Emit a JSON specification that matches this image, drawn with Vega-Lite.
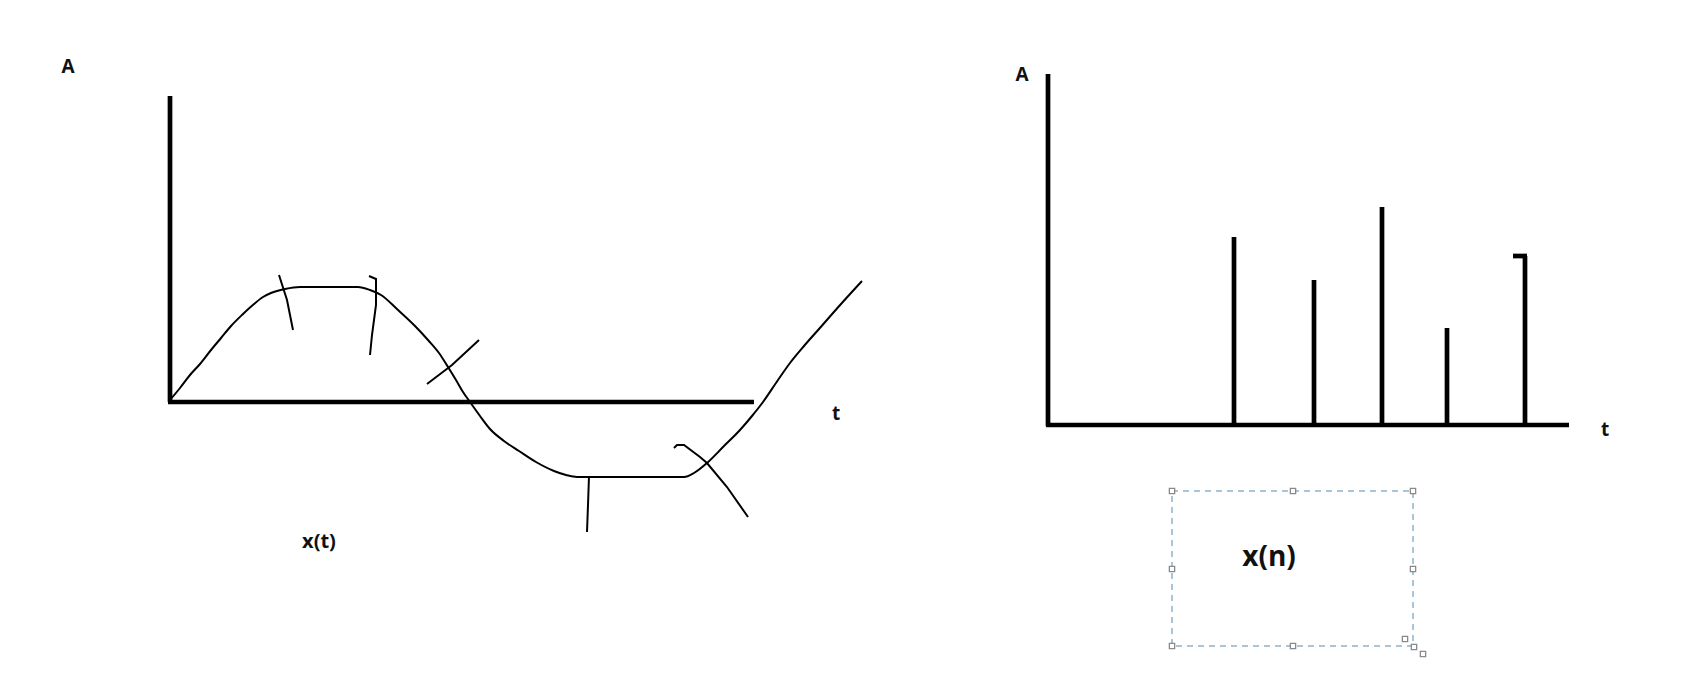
{
  "$schema": "https://vega.github.io/schema/vega-lite/v6.json",
  "width": 1688,
  "height": 697,
  "autosize": {"type": "fit", "contains": "padding"},
  "padding": 0,
  "background": "white",
  "config": {"view": {"stroke": null}},
  "datasets": {
    "axes": [
      {"x": 170, "y": 96, "x2": 170, "y2": 402},
      {"x": 168, "y": 402, "x2": 754, "y2": 402},
      {"x": 1048, "y": 74, "x2": 1048, "y2": 426},
      {"x": 1046, "y": 425, "x2": 1569, "y2": 425},
      {"x": 1513, "y": 256, "x2": 1527, "y2": 256}
    ],
    "stems": [
      {"t": 1234, "A": 237, "base": 425},
      {"t": 1314, "A": 280, "base": 425},
      {"t": 1382, "A": 207, "base": 425},
      {"t": 1447, "A": 328, "base": 425},
      {"t": 1525, "A": 256, "base": 425}
    ],
    "curve": [
      {"t": 170, "A": 400}, {"t": 180, "A": 388}, {"t": 190, "A": 375},
      {"t": 200, "A": 364}, {"t": 211, "A": 350}, {"t": 221, "A": 338},
      {"t": 231, "A": 326}, {"t": 243, "A": 314}, {"t": 254, "A": 304},
      {"t": 263, "A": 297}, {"t": 271, "A": 293}, {"t": 285, "A": 289},
      {"t": 300, "A": 287}, {"t": 330, "A": 287}, {"t": 358, "A": 287},
      {"t": 370, "A": 290}, {"t": 381, "A": 295}, {"t": 398, "A": 310},
      {"t": 415, "A": 326}, {"t": 428, "A": 340}, {"t": 439, "A": 353},
      {"t": 448, "A": 367}, {"t": 456, "A": 380}, {"t": 463, "A": 392},
      {"t": 470, "A": 402}, {"t": 480, "A": 416}, {"t": 490, "A": 429},
      {"t": 504, "A": 441}, {"t": 519, "A": 451}, {"t": 536, "A": 462},
      {"t": 554, "A": 471}, {"t": 566, "A": 475}, {"t": 577, "A": 477},
      {"t": 630, "A": 477}, {"t": 684, "A": 477}, {"t": 694, "A": 473},
      {"t": 707, "A": 463}, {"t": 724, "A": 446}, {"t": 740, "A": 430},
      {"t": 752, "A": 416}, {"t": 763, "A": 402}, {"t": 778, "A": 380},
      {"t": 790, "A": 363}, {"t": 804, "A": 346}, {"t": 819, "A": 329},
      {"t": 841, "A": 304}, {"t": 862, "A": 281}
    ],
    "ticks": [
      {"id": "a", "o": 0, "x": 279, "y": 275}, {"id": "a", "o": 1, "x": 287, "y": 300}, {"id": "a", "o": 2, "x": 293, "y": 330},
      {"id": "b", "o": 0, "x": 369, "y": 276}, {"id": "b", "o": 1, "x": 376, "y": 279}, {"id": "b", "o": 2, "x": 376, "y": 305}, {"id": "b", "o": 3, "x": 372, "y": 335}, {"id": "b", "o": 4, "x": 370, "y": 355},
      {"id": "c", "o": 0, "x": 479, "y": 340}, {"id": "c", "o": 1, "x": 452, "y": 365}, {"id": "c", "o": 2, "x": 427, "y": 384},
      {"id": "d", "o": 0, "x": 589, "y": 476}, {"id": "d", "o": 1, "x": 588, "y": 505}, {"id": "d", "o": 2, "x": 587, "y": 532},
      {"id": "e", "o": 0, "x": 674, "y": 448}, {"id": "e", "o": 1, "x": 677, "y": 445}, {"id": "e", "o": 2, "x": 684, "y": 445}, {"id": "e", "o": 3, "x": 700, "y": 457}, {"id": "e", "o": 4, "x": 707, "y": 463}, {"id": "e", "o": 5, "x": 727, "y": 487}, {"id": "e", "o": 6, "x": 748, "y": 517}
    ],
    "box": [
      {"x": 1172, "y": 491, "x2": 1413, "y2": 646}
    ],
    "handles": [
      {"x": 1172, "y": 491}, {"x": 1293, "y": 491}, {"x": 1413, "y": 491},
      {"x": 1172, "y": 569}, {"x": 1413, "y": 569},
      {"x": 1172, "y": 646}, {"x": 1293, "y": 646},
      {"x": 1405, "y": 639}, {"x": 1414, "y": 647}, {"x": 1423, "y": 654}
    ],
    "labels": [
      {"text": "A", "x": 68, "y": 67, "size": 19},
      {"text": "t", "x": 836, "y": 414, "size": 19},
      {"text": "x(t)", "x": 319, "y": 542, "size": 20},
      {"text": "A", "x": 1022, "y": 75, "size": 19},
      {"text": "t", "x": 1605, "y": 430, "size": 19},
      {"text": "x(n)", "x": 1269, "y": 558, "size": 28}
    ]
  },
  "layer": [
    {
      "data": {"name": "box"},
      "mark": {"type": "rect", "fill": null, "stroke": "#8fb2c8", "strokeWidth": 1.5, "strokeDash": [6, 5]},
      "encoding": {
        "x": {"field": "x", "type": "quantitative", "scale": {"domain": [0, 1688], "nice": false, "zero": false}, "axis": null},
        "x2": {"field": "x2"},
        "y": {"field": "y", "type": "quantitative", "scale": {"domain": [0, 697], "nice": false, "zero": false, "reverse": true}, "axis": null},
        "y2": {"field": "y2"}
      }
    },
    {
      "data": {"name": "handles"},
      "mark": {"type": "point", "shape": "square", "filled": true, "fill": "white", "stroke": "#8a8a8a", "strokeWidth": 1.3, "size": 28, "opacity": 1},
      "encoding": {
        "x": {"field": "x", "type": "quantitative", "scale": {"domain": [0, 1688], "nice": false, "zero": false}, "axis": null},
        "y": {"field": "y", "type": "quantitative", "scale": {"domain": [0, 697], "nice": false, "zero": false, "reverse": true}, "axis": null}
      }
    },
    {
      "data": {"name": "axes"},
      "mark": {"type": "rule", "color": "black", "strokeWidth": 4.7, "strokeCap": "butt"},
      "encoding": {
        "x": {"field": "x", "type": "quantitative", "scale": {"domain": [0, 1688], "nice": false, "zero": false}, "axis": null},
        "x2": {"field": "x2"},
        "y": {"field": "y", "type": "quantitative", "scale": {"domain": [0, 697], "nice": false, "zero": false, "reverse": true}, "axis": null},
        "y2": {"field": "y2"}
      }
    },
    {
      "data": {"name": "stems"},
      "mark": {"type": "rule", "color": "black", "strokeWidth": 4.7, "strokeCap": "butt"},
      "encoding": {
        "x": {"field": "t", "type": "quantitative", "scale": {"domain": [0, 1688], "nice": false, "zero": false}, "axis": null},
        "y": {"field": "A", "type": "quantitative", "scale": {"domain": [0, 697], "nice": false, "zero": false, "reverse": true}, "axis": null},
        "y2": {"field": "base"}
      }
    },
    {
      "data": {"name": "curve"},
      "mark": {"type": "line", "color": "black", "strokeWidth": 2, "interpolate": "monotone"},
      "encoding": {
        "x": {"field": "t", "type": "quantitative", "scale": {"domain": [0, 1688], "nice": false, "zero": false}, "axis": null},
        "y": {"field": "A", "type": "quantitative", "scale": {"domain": [0, 697], "nice": false, "zero": false, "reverse": true}, "axis": null}
      }
    },
    {
      "data": {"name": "ticks"},
      "mark": {"type": "line", "color": "black", "strokeWidth": 2},
      "encoding": {
        "x": {"field": "x", "type": "quantitative", "scale": {"domain": [0, 1688], "nice": false, "zero": false}, "axis": null},
        "y": {"field": "y", "type": "quantitative", "scale": {"domain": [0, 697], "nice": false, "zero": false, "reverse": true}, "axis": null},
        "detail": {"field": "id"},
        "order": {"field": "o", "type": "quantitative"}
      }
    },
    {
      "data": {"name": "labels"},
      "mark": {"type": "text", "font": "Open Sans", "fontWeight": "bold", "color": "#111", "align": "center", "baseline": "middle"},
      "encoding": {
        "x": {"field": "x", "type": "quantitative", "scale": {"domain": [0, 1688], "nice": false, "zero": false}, "axis": null},
        "y": {"field": "y", "type": "quantitative", "scale": {"domain": [0, 697], "nice": false, "zero": false, "reverse": true}, "axis": null},
        "text": {"field": "text"},
        "size": {"field": "size", "type": "quantitative", "scale": null, "legend": null}
      }
    }
  ]
}
